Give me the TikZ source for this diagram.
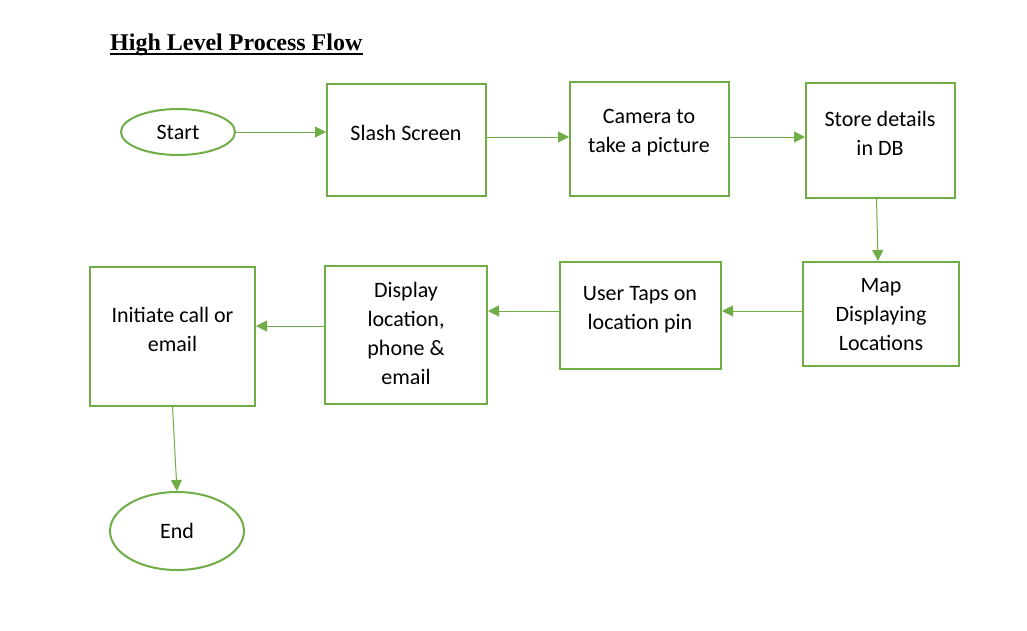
\documentclass[tikz,border=0pt]{standalone}
\usepackage{fontspec}
\setmainfont{Carlito}
\newfontfamily\titlefont{Liberation Serif}
\usetikzlibrary{shapes.geometric,arrows.meta,positioning}
\definecolor{flowgreen}{RGB}{112,173,71}

\begin{document}
\begin{tikzpicture}[x=1pt,y=-1pt,
  box/.style={draw=flowgreen,line width=2pt,inner sep=0pt},
  term/.style={draw=flowgreen,line width=2pt,ellipse,inner sep=0pt,
    font=\fontsize{22}{29}\selectfont},
  txt/.style={font=\fontsize{22}{29}\selectfont,align=center,inner sep=0pt},
  flow/.style={-{Triangle[length=11pt,width=11pt]},flowgreen,line width=1pt},
]
  \fill[white] (0,0) rectangle (1027,630);
  \useasboundingbox (0,0) rectangle (1027,630);

  \node[font=\titlefont\bfseries\fontsize{24}{28}\selectfont,anchor=base west,inner sep=0pt]
    (title) at (110,50) {High Level Process Flow};
  \draw[line width=2.2pt] ([yshift=-4pt]title.base west) -- ([yshift=-4pt]title.base east);

  % top row
  \node[term,minimum width=114pt,minimum height=46pt] (start) at (178,132) {Start};
  \node[box,minimum width=159pt,minimum height=112pt] (slash) at (406.5,140) {};
  \node[txt] (slashlbl) at (406,133) {Slash Screen};
  \node[box,minimum width=159pt,minimum height=114pt] (camera) at (649.5,139) {};
  \node[txt] (cameralbl) at (649,133) {Camera to\\take a picture};
  \node[box,minimum width=149pt,minimum height=115pt] (store) at (880.5,140.5) {};
  \node[txt] (storelbl) at (880,133.5) {Store details\\in DB};

  % second row
  \node[box,minimum width=156pt,minimum height=104pt] (map) at (881,314) {};
  \node[txt] (maplbl) at (881,315) {Map\\Displaying\\Locations};
  \node[box,minimum width=161pt,minimum height=107pt] (taps) at (640.5,315.5) {};
  \node[txt] (tapslbl) at (640,309.5) {User Taps on\\location pin};
  \node[box,minimum width=162pt,minimum height=138pt] (display) at (406,335) {};
  \node[txt] (displaylbl) at (406,333) {Display\\location,\\phone \&\\email};
  \node[box,minimum width=165pt,minimum height=139pt] (initiate) at (172.5,336.5) {};
  \node[txt] (initiatelbl) at (172.5,329) {Initiate call or\\email};

  \node[term,minimum width=134pt,minimum height=78pt] (end) at (177,531) {End};

  % connectors
  \draw[flow] (start.east) -- (start.east -| slash.west);
  \draw[flow] ([yshift=3pt]slash.east) -- ([yshift=3pt]slash.east -| camera.west);
  \draw[flow] ([yshift=2pt]camera.east) -- ([yshift=2pt]camera.east -| store.west);
  \draw[flow] ([xshift=-4pt]store.south) -- ([xshift=-3pt]map.north);
  \draw[flow] ([yshift=3pt]map.west) -- ([yshift=3pt]map.west -| taps.east);
  \draw[flow] ([yshift=4.5pt]taps.west) -- ([yshift=4.5pt]taps.west -| display.east);
  \draw[flow] ([yshift=9pt]display.west) -- ([yshift=9pt]display.west -| initiate.east);
  \draw[flow] (initiate.south) -- (end.north);
\end{tikzpicture}
\end{document}
